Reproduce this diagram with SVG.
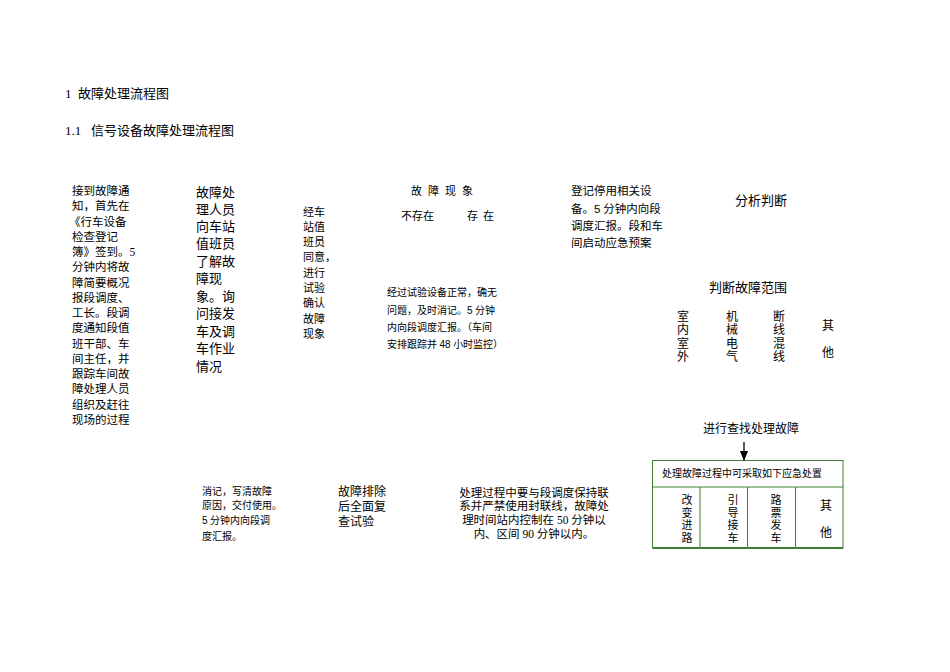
<svg xmlns="http://www.w3.org/2000/svg" width="950" height="672" viewBox="0 0 950 672">
<style>
text{font-family:"Liberation Serif","Noto Sans CJK SC",serif;fill:#000;}
.s{font-family:"Liberation Sans","Noto Sans CJK SC",sans-serif;}
.f10{font-size:10px}.f11{font-size:11px}.f115{font-size:11.5px}.f12{font-size:12px}.f13{font-size:13px}
.box{fill:none;stroke:#3f7f33;stroke-width:1}
</style>
<defs>
<marker id="ah" markerWidth="10" markerHeight="8" refX="9" refY="4" orient="auto" markerUnits="userSpaceOnUse">
<path d="M0,0 L10,4 L0,8 Z" fill="#000"/>
</marker>
</defs>
<rect width="950" height="672" fill="#fff"/>
<g id="title">
<text class="f13" y="98"><tspan x="65">1</tspan><tspan x="78">故障处理流程图</tspan></text>
<text class="f13" y="135"><tspan x="65">1.1</tspan><tspan x="91">信号设备故障处理流程图</tspan></text>
</g>
<g id="n-receive" class="f115">
<text x="72" y="195">接到故障通</text>
<text x="72" y="210">知，首先在</text>
<text x="69" y="226">《行车设备</text>
<text x="72" y="241">检查登记</text>
<text x="72" y="256">簿》签到。5</text>
<text x="72" y="271">分钟内将故</text>
<text x="72" y="287">障简要概况</text>
<text x="72" y="302">报段调度、</text>
<text x="72" y="317">工长。段调</text>
<text x="72" y="332">度通知段值</text>
<text x="72" y="348">班干部、车</text>
<text x="72" y="363">间主任，并</text>
<text x="72" y="378">跟踪车间故</text>
<text x="72" y="393">障处理人员</text>
<text x="72" y="409">组织及赶往</text>
<text x="72" y="424">现场的过程</text>
</g>
<g id="n-ask" class="f13">
<text x="196" y="197">故障处</text>
<text x="196" y="214">理人员</text>
<text x="196" y="231">向车站</text>
<text x="196" y="248">值班员</text>
<text x="196" y="266">了解故</text>
<text x="196" y="283">障现</text>
<text x="196" y="301">象。询</text>
<text x="196" y="318">问接发</text>
<text x="196" y="336">车及调</text>
<text x="196" y="353">车作业</text>
<text x="196" y="371">情况</text>
</g>
<g id="n-test" class="f11">
<text x="303" y="216">经车</text>
<text x="303" y="231">站值</text>
<text x="303" y="246">班员</text>
<text x="303" y="261">同意，</text>
<text x="303" y="277">进行</text>
<text x="303" y="292">试验</text>
<text x="303" y="307">确认</text>
<text x="303" y="323">故障</text>
<text x="303" y="338">现象</text>
</g>
<g id="n-phenomenon" class="f11">
<text x="411 428 445 462" y="195">故障现象</text>
<text x="401" y="220">不存在</text>
<text x="467 483" y="220">存在</text>
</g>
<g id="n-normal" class="f10">
<text x="387" y="296">经过试验设备正常，确无</text>
<text x="387" y="314">问题，及时消记。<tspan class="s">5</tspan> 分钟</text>
<text x="387" y="331">内向段调度汇报。（车间</text>
<text x="387" y="348">安排跟踪并 <tspan class="s">48</tspan> 小时监控）</text>
</g>
<g id="n-register" class="f115">
<text x="571" y="195">登记停用相关设</text>
<text x="571" y="213">备。<tspan class="s">5</tspan> 分钟内向段</text>
<text x="571" y="230">调度汇报。段和车</text>
<text x="571" y="247">间启动应急预案</text>
</g>
<g id="n-analyze" class="f13">
<text x="735" y="205">分析判断</text>
</g>
<g id="n-range">
<text class="f13" x="709" y="292">判断故障范围</text>
<g class="f12">
<text x="677" y="321">室</text><text x="677" y="334">内</text><text x="677" y="348">室</text><text x="677" y="361">外</text>
<text x="726" y="321">机</text><text x="726" y="334">械</text><text x="726" y="348">电</text><text x="726" y="361">气</text>
<text x="773" y="321">断</text><text x="773" y="334">线</text><text x="773" y="348">混</text><text x="773" y="361">线</text>
<text x="822" y="330">其</text><text x="822" y="357">他</text>
</g>
</g>
<g id="n-find">
<text class="f12" x="703" y="433">进行查找处理故障</text>
</g>
<g id="n-emergency">
<rect class="box" x="652.5" y="460.5" width="190.5" height="87.5"/>
<line x1="652.5" y1="548" x2="843" y2="548" stroke="#3f7f33" stroke-width="2"/>
<line class="box" x1="652.5" y1="487" x2="843" y2="487"/>
<line class="box" x1="700" y1="487" x2="700" y2="548"/>
<line class="box" x1="747.5" y1="487" x2="747.5" y2="548"/>
<line class="box" x1="795.5" y1="487" x2="795.5" y2="548"/>
<text class="f10" x="662" y="477">处理故障过程中可采取如下应急处置</text>
<g class="f11">
<text x="681.5" y="504">改</text><text x="681.5" y="516.5">变</text><text x="681.5" y="529">进</text><text x="681.5" y="541.5">路</text>
<text x="727.5" y="504">引</text><text x="727.5" y="516.5">导</text><text x="727.5" y="529">接</text><text x="727.5" y="541.5">车</text>
<text x="770.5" y="504">路</text><text x="770.5" y="516.5">票</text><text x="770.5" y="529">发</text><text x="770.5" y="541.5">车</text>
</g>
<g class="f12">
<text x="820" y="510">其</text><text x="820" y="537">他</text>
</g>
</g>
<g id="n-clear" class="f10">
<text x="202" y="495">消记，写清故障</text>
<text x="202" y="509">原因，交付使用。</text>
<text x="202" y="524"><tspan class="s">5</tspan> 分钟内向段调</text>
<text x="202" y="540">度汇报。</text>
</g>
<g id="n-retest" class="f12">
<text x="338" y="496">故障排除</text>
<text x="338" y="511">后全面复</text>
<text x="338" y="526">查试验</text>
</g>
<g id="n-note" class="f115" text-anchor="middle">
<text x="534" y="497">处理过程中要与段调度保持联</text>
<text x="534" y="510">系并严禁使用封联线，故障处</text>
<text x="534" y="524">理时间站内控制在 50 分钟以</text>
<text x="534" y="538">内、区间 90 分钟以内。</text>
</g>
<g id="connectors">
<line x1="744" y1="442" x2="744" y2="460" stroke="#000" stroke-width="1.3" marker-end="url(#ah)"/>
</g>
</svg>
